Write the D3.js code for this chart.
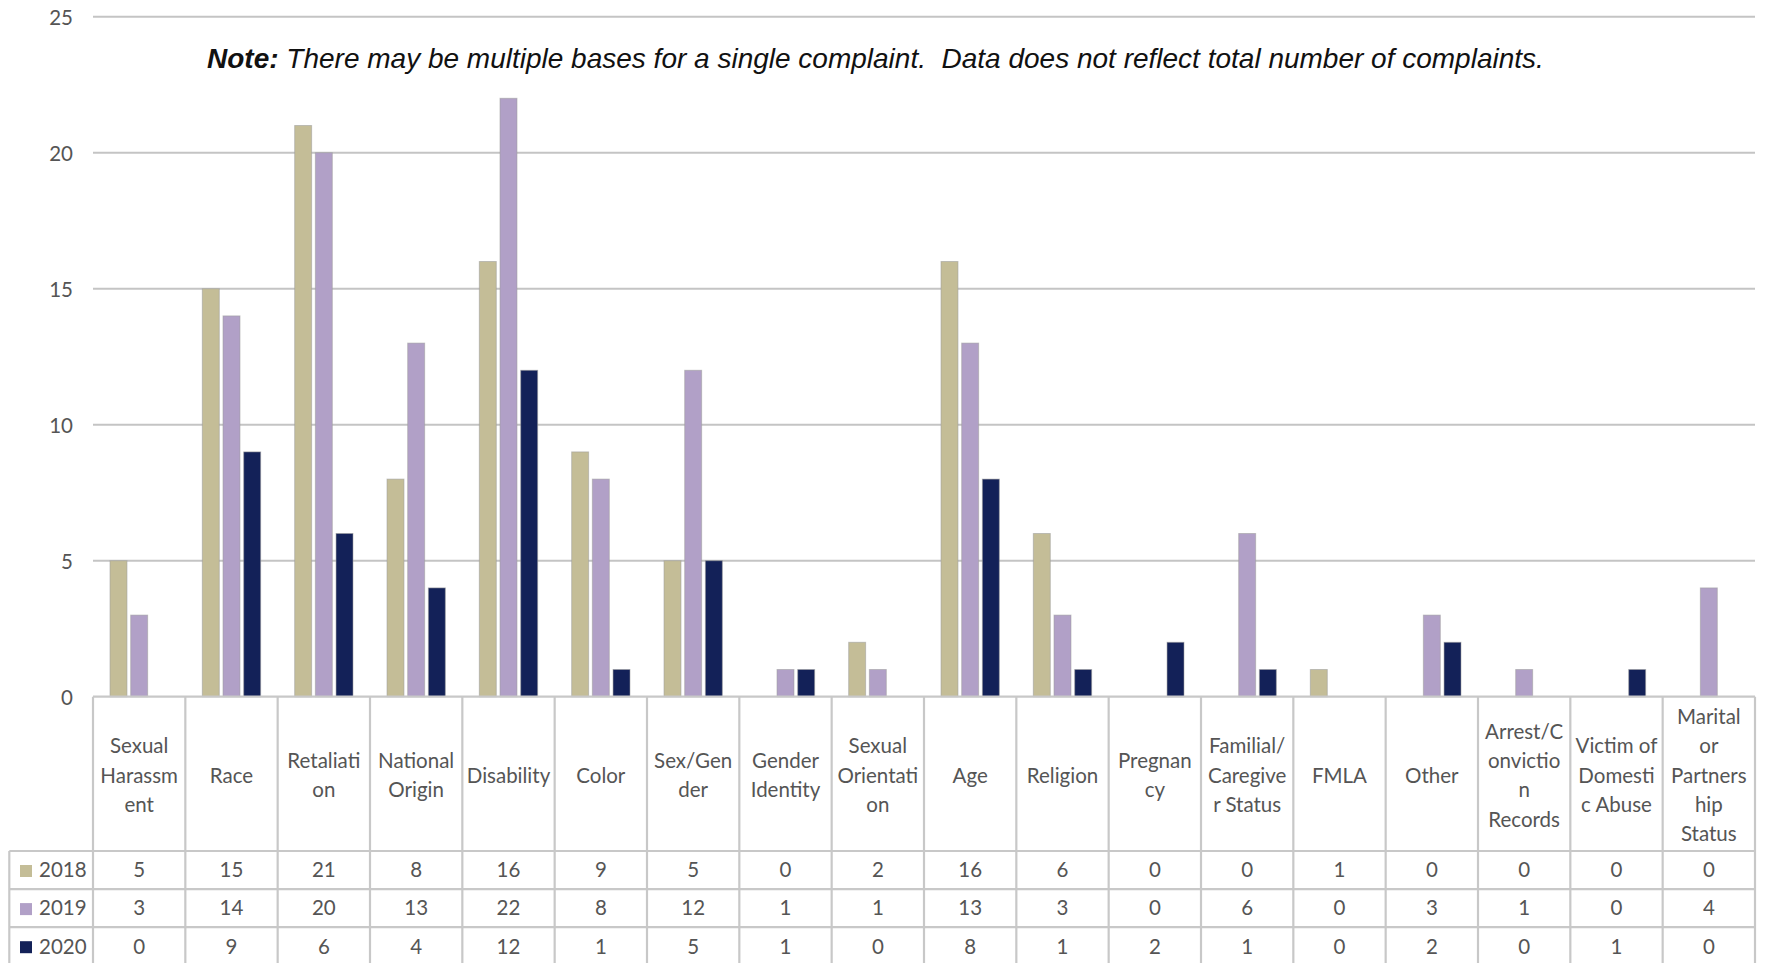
<!DOCTYPE html>
<html>
<head>
<meta charset="utf-8">
<script src="https://cdn.jsdelivr.net/npm/d3@7"></script>
<style>
  html, body { margin: 0; padding: 0; background: #ffffff; }
  svg { display: block; }
  .note { white-space: pre; }
</style>
</head>
<body>
<svg id="chart" width="1772" height="963"></svg>
<script>
// Bases of complaints by year
const categories = [
  "Sexual Harassment", "Race", "Retaliation", "National Origin", "Disability",
  "Color", "Sex/Gender", "Gender Identity", "Sexual Orientation", "Age",
  "Religion", "Pregnancy", "Familial/Caregiver Status", "FMLA", "Other",
  "Arrest/Conviction Records", "Victim of Domestic Abuse", "Marital or Partnership Status"
];
// Header text as it wraps inside the table cells
const categoryLines = [
  ["Sexual", "Harassm", "ent"], ["Race"], ["Retaliati", "on"], ["National", "Origin"],
  ["Disability"], ["Color"], ["Sex/Gen", "der"], ["Gender", "Identity"],
  ["Sexual", "Orientati", "on"], ["Age"], ["Religion"], ["Pregnan", "cy"],
  ["Familial/", "Caregive", "r Status"], ["FMLA"], ["Other"],
  ["Arrest/C", "onvictio", "n", "Records"], ["Victim of", "Domesti", "c Abuse"],
  ["Marital", "or", "Partners", "hip", "Status"]
];
const seriesNames = ["2018", "2019", "2020"];
const values2018 = [5, 15, 21, 8, 16, 9, 5, 0, 2, 16, 6, 0, 0, 1, 0, 0, 0, 0];
const values2019 = [3, 14, 20, 13, 22, 8, 12, 1, 1, 13, 3, 0, 6, 0, 3, 1, 0, 4];
const values2020 = [0, 9, 6, 4, 12, 1, 5, 1, 0, 8, 1, 2, 1, 0, 2, 0, 1, 0];
const seriesColors = ["#c4bd97", "#b1a0c7", "#132158"];
const yTicks = [0, 5, 10, 15, 20, 25];
const noteBold = "Note:";
const noteText = " There may be multiple bases for a single complaint.  Data does not reflect total number of complaints.";

const seriesValues = [values2018, values2019, values2020];

const svg = d3.select("#chart");
const FONT = "Lato, 'Open Sans', sans-serif";
const TEXT = "#555555";
const GRID = "#c4c4c4";
const BORDER = "#c8c8c8";

const plotLeft = 93, plotRight = 1755;
const yTop = 16.7, yZero = 696.7;

const x0 = d3.scaleBand().domain(categories).range([plotLeft, plotRight]).padding(0);
const groupPad = 17;
const x1 = d3.scaleBand().domain(seriesNames)
  .range([groupPad, x0.bandwidth() - groupPad]).paddingInner(0.18);
const y = d3.scaleLinear().domain([0, 25]).range([yZero, yTop]);
const color = d3.scaleOrdinal().domain(seriesNames).range(seriesColors);

// Horizontal gridlines
svg.append("g")
  .selectAll("line")
  .data(yTicks.filter(d => d > 0))
  .join("line")
  .attr("x1", plotLeft).attr("x2", plotRight)
  .attr("y1", d => y(d)).attr("y2", d => y(d))
  .attr("stroke", GRID).attr("stroke-width", 2);

// Value axis labels
const yAxis = d3.axisLeft(y).tickValues(yTicks).tickSize(0).tickPadding(0);
const gy = svg.append("g").attr("transform", "translate(73,0)").call(yAxis);
gy.select(".domain").remove();
gy.selectAll("text")
  .attr("font-family", FONT).attr("font-size", 20.5).attr("fill", TEXT)
  .attr("dy", "0.36em");

// Note
const note = svg.append("text")
  .attr("class", "note")
  .attr("x", 207).attr("y", 68.3)
  .attr("font-family", "'Liberation Sans', Arial, sans-serif")
  .attr("font-size", 28).attr("font-style", "italic").attr("fill", "#111");
note.append("tspan").attr("font-weight", "bold").text(noteBold);
note.append("tspan").text(noteText);

// Bars
const rows = categories.map((c, i) => ({
  category: c,
  values: seriesNames.map((s, k) => ({ series: s, value: seriesValues[k][i] }))
}));

const groups = svg.append("g").selectAll("g")
  .data(rows).join("g")
  .attr("transform", d => `translate(${x0(d.category)},0)`);

groups.selectAll("rect")
  .data(d => d.values.filter(v => v.value > 0))
  .join("rect")
  .attr("x", d => x1(d.series))
  .attr("width", x1.bandwidth())
  .attr("y", d => y(d.value))
  .attr("height", d => y(0) - y(d.value))
  .attr("fill", d => color(d.series))
  .attr("stroke", "#9c9c9c").attr("stroke-opacity", 0.55).attr("stroke-width", 1);

// Data table
const headerTop = yZero, headerBottom = 851, rowH = 38.1;
const tableBottom = headerBottom + rowH * 3;
const legendLeft = 9.3;
const table = svg.append("g");

// horizontal rules
table.append("line")
  .attr("x1", plotLeft).attr("x2", plotRight)
  .attr("y1", headerTop).attr("y2", headerTop)
  .attr("stroke", BORDER).attr("stroke-width", 2.2);
table.selectAll("line.row")
  .data(d3.range(4))
  .join("line").attr("class", "row")
  .attr("x1", legendLeft).attr("x2", plotRight)
  .attr("y1", k => headerBottom + k * rowH).attr("y2", k => headerBottom + k * rowH)
  .attr("stroke", BORDER).attr("stroke-width", 2.2);

// vertical rules
const colEdges = categories.map(c => x0(c)).concat([plotRight]);
table.selectAll("line.col")
  .data(colEdges)
  .join("line").attr("class", "col")
  .attr("x1", d => d).attr("x2", d => d)
  .attr("y1", headerTop).attr("y2", tableBottom)
  .attr("stroke", BORDER).attr("stroke-width", 2.2);
table.append("line")
  .attr("x1", legendLeft).attr("x2", legendLeft)
  .attr("y1", headerBottom).attr("y2", tableBottom)
  .attr("stroke", BORDER).attr("stroke-width", 2.2);

// header labels
const lineH = 29.3, headerMid = 782.7;
const headers = table.append("g").selectAll("text")
  .data(categoryLines)
  .join("text")
  .attr("text-anchor", "middle")
  .attr("font-family", FONT).attr("font-size", 20.5).attr("fill", TEXT);
headers.each(function (lines, i) {
  const cx = x0(categories[i]) + x0.bandwidth() / 2;
  d3.select(this).selectAll("tspan")
    .data(lines).join("tspan")
    .attr("x", cx)
    .attr("y", (l, j) => headerMid + (j - (lines.length - 1) / 2) * lineH)
    .text(l => l);
});

// legend keys and value cells
seriesNames.forEach((s, k) => {
  const rowTop = headerBottom + k * rowH;
  const base = rowTop + rowH / 2 + 7.3;
  table.append("rect")
    .attr("x", 20).attr("y", rowTop + 14).attr("width", 12).attr("height", 12)
    .attr("fill", color(s));
  table.append("text")
    .attr("x", 39).attr("y", base)
    .attr("font-family", FONT).attr("font-size", 20.5).attr("fill", TEXT)
    .text(s);
  table.append("g").selectAll("text")
    .data(seriesValues[k])
    .join("text")
    .attr("x", (v, i) => x0(categories[i]) + x0.bandwidth() / 2)
    .attr("y", base)
    .attr("text-anchor", "middle")
    .attr("font-family", FONT).attr("font-size", 20.5).attr("fill", TEXT)
    .text(v => v);
});
</script>
</body>
</html>
